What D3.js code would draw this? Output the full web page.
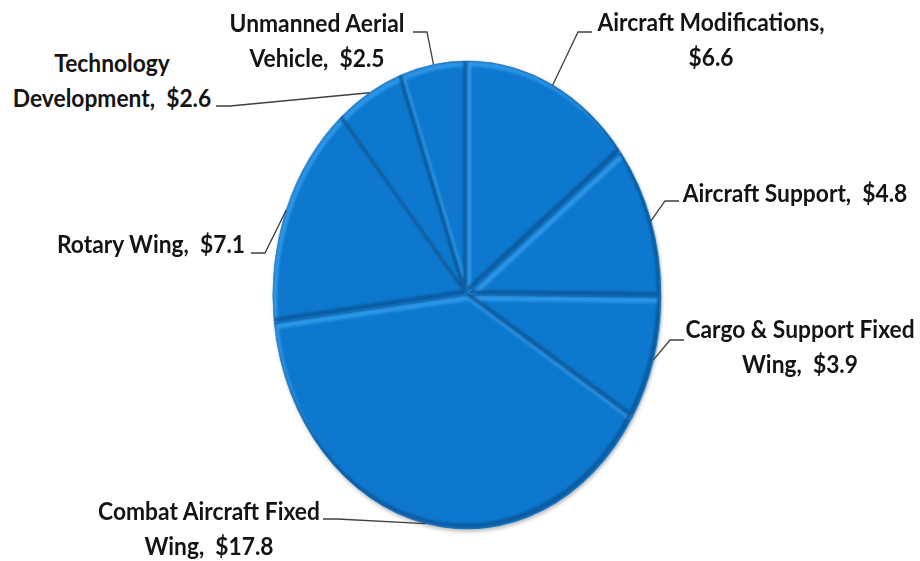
<!DOCTYPE html>
<html>
<head>
<meta charset="utf-8">
<script src="https://cdn.jsdelivr.net/npm/d3@7"></script>
<style>
  body { margin: 0; background: #fff; }
  svg { display: block; }
</style>
</head>
<body>
<div id="chart"></div>
<script>
// data, clockwise from 12 o'clock
const categories = ["Aircraft Modifications", "Aircraft Support", "Cargo & Support Fixed Wing",
  "Combat Aircraft Fixed Wing", "Rotary Wing", "Technology Development", "Unmanned Aerial Vehicle"];
const values = [6.6, 4.8, 3.9, 17.8, 7.1, 2.6, 2.5];
// how many words of the category sit on the first label line (0 = one line)
const firstLineWords = [2, 0, 4, 3, 0, 1, 2];

// label layout: text centre / first baseline, where the leader meets the text, side of the pie
const labelPos = [
  { tx: 711, ty: 31, lx: 592, ly: 32, dir: -1 },
  { tx: 795, ty: 202, lx: 679, ly: 201, dir: -1 },
  { tx: 800, ty: 338, lx: 684, ly: 340, dir: -1 },
  { tx: 209, ty: 520, lx: 323, ly: 519, dir: 1 },
  { tx: 151, ty: 253, lx: 251, ly: 253, dir: 1 },
  { tx: 112, ty: 72, lx: 216, ly: 106, dir: 1 },
  { tx: 317, ty: 32, lx: 413, ly: 32, dir: 1 }
];

const width = 920, height = 561;
const cx = 467, cy = 295, rx = 194, ry = 234;
const lineGap = 35.5, squeeze = 0.95;

const data = categories.map((c, i) => ({ category: c, value: values[i], i }));

const svg = d3.select("#chart").append("svg")
  .attr("width", width)
  .attr("height", height);

svg.append("rect").attr("width", width).attr("height", height).attr("fill", "#fff");

const pie = d3.pie().sort(null).value(d => d.value);
const data_ready = pie(data);

const arc = d3.arc().innerRadius(0).outerRadius(ry);
const edgeArc = d3.arc().innerRadius(ry).outerRadius(ry);

const defs = svg.append("defs");
defs.append("filter").attr("id", "soft")
  .attr("x", "-20%").attr("y", "-20%").attr("width", "140%").attr("height", "140%")
  .append("feGaussianBlur").attr("stdDeviation", 1.6);

const shadow = defs.append("filter").attr("id", "shadow")
  .attr("x", "-10%").attr("y", "-10%").attr("width", "120%").attr("height", "120%");
shadow.append("feDropShadow")
  .attr("dx", 1).attr("dy", 2).attr("stdDeviation", 2)
  .attr("flood-color", "#000").attr("flood-opacity", 0.3);

defs.selectAll("clipPath")
  .data(data_ready)
  .enter()
  .append("clipPath")
  .attr("id", d => `clip-${d.data.i}`)
  .append("path")
  .attr("d", arc);

const pieG = svg.append("g")
  .attr("transform", `translate(${cx},${cy}) scale(${rx / ry},1)`)
  .attr("filter", "url(#shadow)");

const slices = pieG.selectAll("g.slice")
  .data(data_ready)
  .enter()
  .append("g")
  .attr("class", "slice");

slices.append("path")
  .attr("d", arc)
  .attr("fill", "#0a78ce");

// soft bevel: light on edges facing up-left, dark on edges facing down-right
const bevel = slices.append("g")
  .attr("clip-path", d => `url(#clip-${d.data.i})`)
  .attr("filter", "url(#soft)");

bevel.append("path")
  .attr("d", arc)
  .attr("transform", "translate(2.5,3)")
  .attr("fill", "none")
  .attr("stroke", "#3398e8")
  .attr("stroke-width", 5);

bevel.append("path")
  .attr("d", arc)
  .attr("transform", "translate(-2.5,-3)")
  .attr("fill", "none")
  .attr("stroke", "#0a5596")
  .attr("stroke-width", 4);

slices.append("path")
  .attr("d", arc)
  .attr("fill", "none")
  .attr("stroke", "#0a5fa6")
  .attr("stroke-width", 0.6)
  .attr("stroke-linejoin", "round");

// leader lines
const toScreen = d => {
  const c = edgeArc.centroid(d);
  return [cx + c[0] * rx / ry, cy + c[1]];
};

svg.append("g").selectAll("polyline")
  .data(data_ready)
  .enter()
  .append("polyline")
  .attr("points", d => {
    const p = labelPos[d.data.i];
    const e = toScreen(d);
    return [e, [p.lx + p.dir * 14, p.ly], [p.lx, p.ly]].map(q => q.join(",")).join(" ");
  })
  .attr("fill", "none")
  .attr("stroke", "#404040")
  .attr("stroke-width", 1.3);

// labels
const labelLines = d => {
  const words = d.category.split(" ");
  const n = firstLineWords[d.i];
  const val = `$${d.value.toFixed(1)}`;
  if (n === 0) return [`${d.category},\u00a0 ${val}`];
  if (n === words.length) return [`${d.category},`, val];
  return [words.slice(0, n).join(" "), `${words.slice(n).join(" ")},\u00a0 ${val}`];
};

const labels = svg.append("g").selectAll("text")
  .data(data)
  .enter()
  .append("text")
  .attr("transform", d => `translate(${labelPos[d.i].tx},${labelPos[d.i].ty}) scale(${squeeze},1)`)
  .style("text-anchor", "middle")
  .style("font-family", "Lato, 'Open Sans', sans-serif")
  .style("font-weight", "bold")
  .style("font-size", "24px")
  .style("fill", "#141414");

labels.selectAll("tspan")
  .data(d => labelLines(d))
  .enter()
  .append("tspan")
  .attr("x", 0)
  .attr("y", (d, i) => i * lineGap)
  .text(d => d);
</script>
</body>
</html>
